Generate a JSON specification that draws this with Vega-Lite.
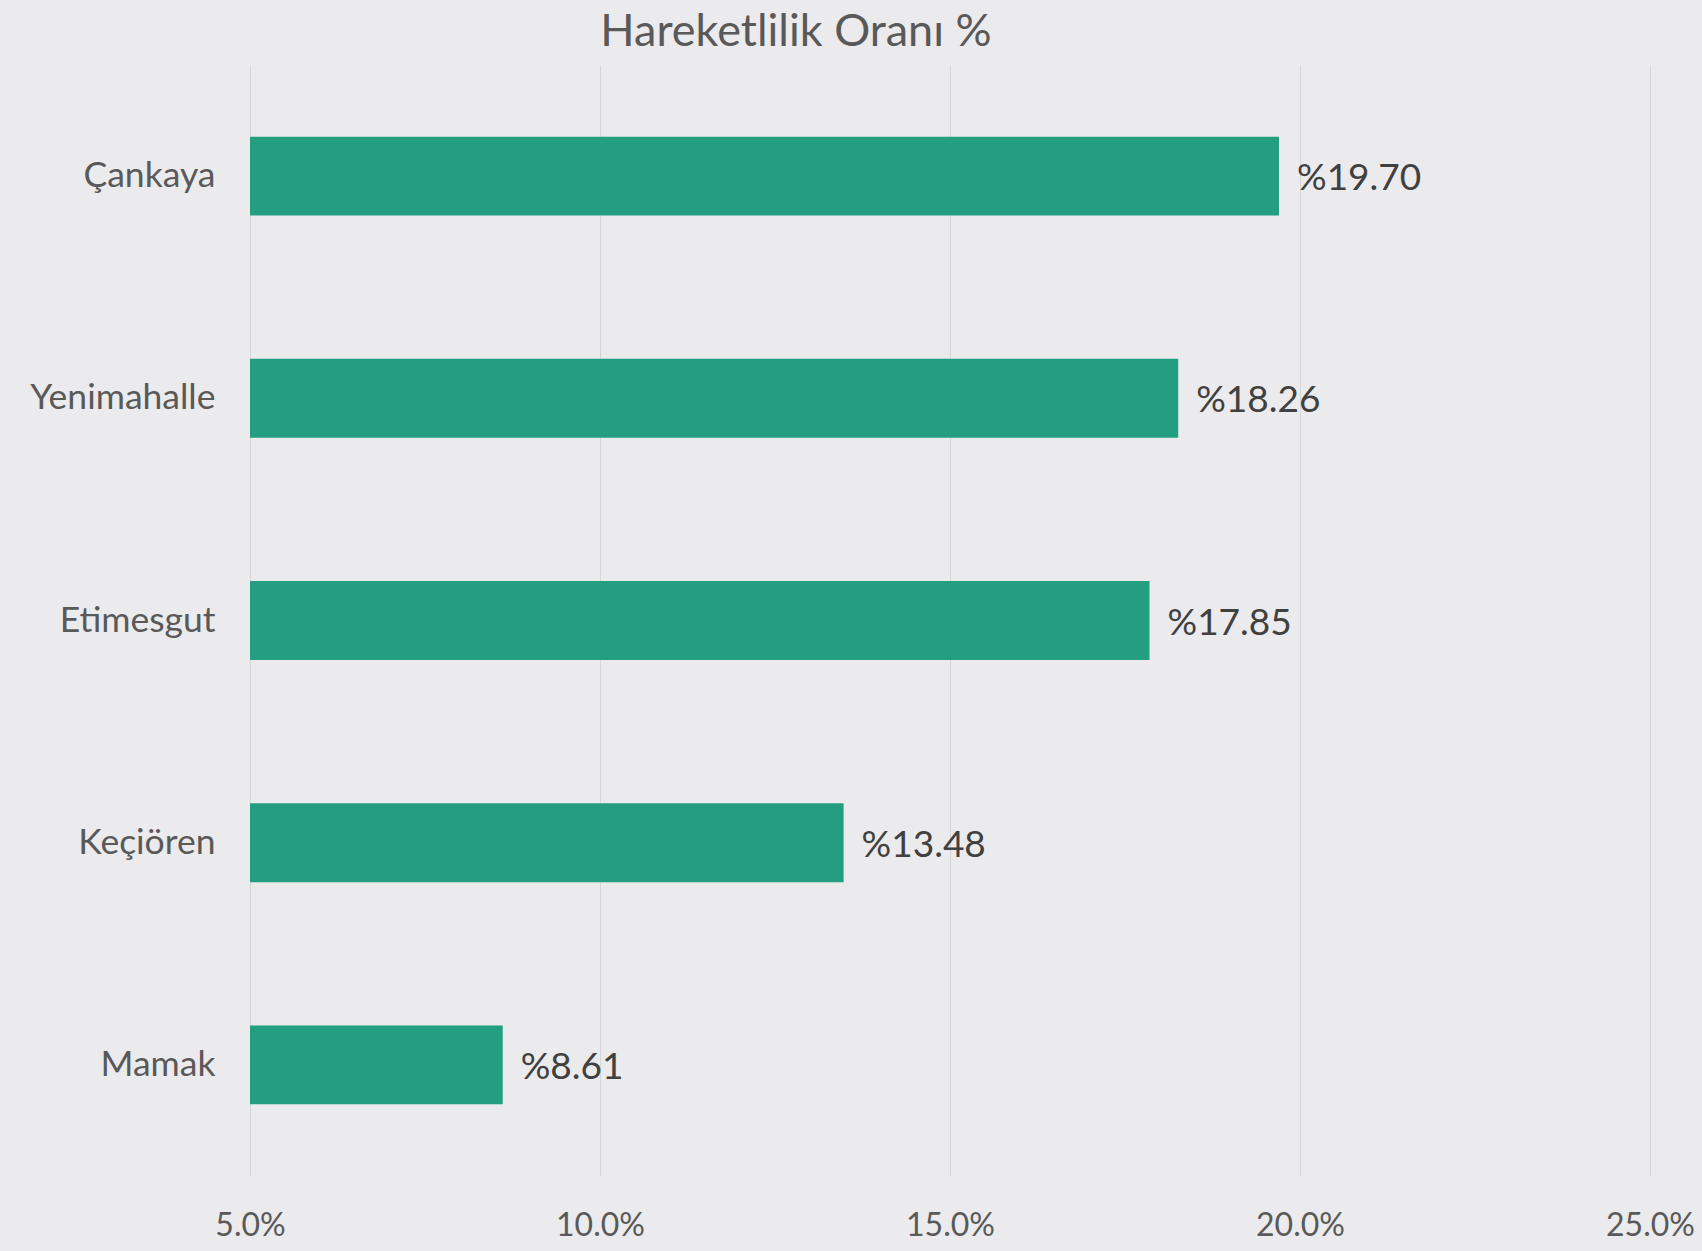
{
  "$schema": "https://vega.github.io/schema/vega-lite/v6.json",
  "autosize": "none",
  "width": 1400,
  "height": 1111,
  "padding": {"left": 250, "top": 65, "right": 52, "bottom": 75},
  "background": "#EBEAEC",
  "title": {
    "text": "Hareketlilik Oranı %",
    "anchor": "middle",
    "frame": "group",
    "dx": -154,
    "offset": -26,
    "baseline": "alphabetic",
    "font": "Lato",
    "fontSize": 45,
    "fontWeight": "normal",
    "color": "#595959"
  },
  "config": {
    "view": {"stroke": null},
    "font": "Lato"
  },
  "data": {
    "values": [
      {"district": "Çankaya", "value": 19.70, "label": "%19.70"},
      {"district": "Yenimahalle", "value": 18.26, "label": "%18.26"},
      {"district": "Etimesgut", "value": 17.85, "label": "%17.85"},
      {"district": "Keçiören", "value": 13.48, "label": "%13.48"},
      {"district": "Mamak", "value": 8.61, "label": "%8.61"}
    ]
  },
  "encoding": {
    "y": {
      "field": "district",
      "type": "nominal",
      "sort": null,
      "scale": {"paddingInner": 0.645, "paddingOuter": 0.3225},
      "axis": {
        "title": null,
        "ticks": false,
        "domain": false,
        "labelFont": "Lato",
        "labelFontSize": 35.5,
        "labelColor": "#595959",
        "labelPadding": 35,
        "labelOffset": 0,
        "labelLimit": 400
      }
    }
  },
  "layer": [
    {
      "mark": {"type": "bar", "color": "#239E80"},
      "encoding": {
        "x": {
          "field": "value",
          "type": "quantitative",
          "scale": {"domain": [5, 25], "nice": false, "zero": false},
          "axis": {
            "title": null,
            "values": [5, 10, 15, 20, 25],
            "labelExpr": "format(datum.value, '.1f') + '%'",
            "ticks": false,
            "domain": false,
            "grid": true,
            "gridColor": "#D6D6D6",
            "gridWidth": 1,
            "labelFont": "Lato",
            "labelFontSize": 32,
            "labelColor": "#595959",
            "labelPadding": 34,
            "labelFlush": false
          }
        },
        "x2": {"datum": 5}
      }
    },
    {
      "mark": {"type": "text", "align": "left", "baseline": "middle", "dx": 18, "dy": 3, "fontSize": 37, "color": "#404040", "font": "Lato"},
      "encoding": {
        "x": {"field": "value", "type": "quantitative"},
        "text": {"field": "label"}
      }
    }
  ]
}
